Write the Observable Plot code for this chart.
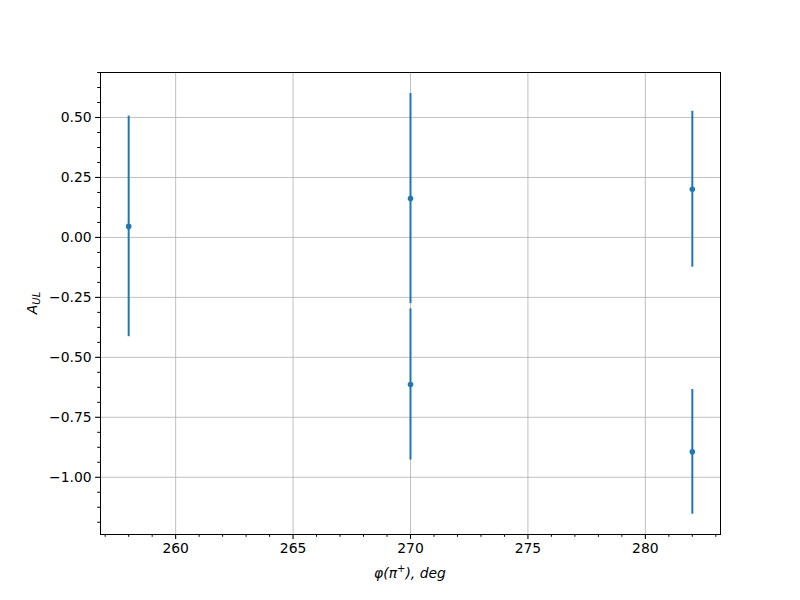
<!DOCTYPE html>
<html>
<head>
<meta charset="utf-8">
<script src="https://cdn.jsdelivr.net/npm/d3@7"></script>
<script src="https://cdn.jsdelivr.net/npm/@observablehq/plot@0.6"></script>
<style>
  html, body { margin: 0; padding: 0; background: #fff; }
  #chart { width: 800px; height: 600px; }
  svg { font-family: "DejaVu Sans", sans-serif; }
</style>
</head>
<body>
<div id="chart"></div>
<script>
// Data
const phi = [258, 270, 270, 282, 282];
const aul = [0.046, 0.162, -0.613, 0.201, -0.894];
const err = [0.46, 0.438, 0.315, 0.325, 0.26];

const xTicks = [260, 265, 270, 275, 280];
const yTicks = [0.5, 0.25, 0.0, -0.25, -0.5, -0.75, -1.0];
const xMinor = d3.range(257, 284, 1).filter(v => !xTicks.includes(v));
const yMinor = d3.range(-19, 12).map(k => k * 0.0625).filter(v => v > -1.239 && v < 0.688 && !yTicks.some(t => Math.abs(t - v) < 1e-9));

const data = phi.map((p, i) => ({x: p, y: aul[i], lo: aul[i] - err[i], hi: aul[i] + err[i]}));

const color = "#1f77b4";

const chart = Plot.plot({
  width: 800,
  height: 600,
  marginLeft: 100,
  marginRight: 80,
  marginTop: 72,
  marginBottom: 66,
  style: {fontFamily: "DejaVu Sans, sans-serif", fontSize: "13.9px", color: "black", background: "white"},
  x: {domain: [256.8, 283.2], label: null},
  y: {domain: [-1.2386, 0.6876], label: null},
  marks: [
    Plot.gridX(xTicks, {stroke: "#b0b0b0", strokeOpacity: 1, strokeWidth: 0.8}),
    Plot.gridY(yTicks, {stroke: "#b0b0b0", strokeOpacity: 1, strokeWidth: 0.8}),
    Plot.axisX(xTicks, {tickSize: 4.9, tickPadding: 4, strokeWidth: 1.1, tickFormat: d3.format("d"), label: null, fontSize: 13.9}),
    Plot.axisX(xMinor, {tickSize: 2.8, strokeWidth: 1, tickFormat: () => "", label: null}),
    Plot.axisY(yTicks, {tickSize: 4.9, tickPadding: 4, strokeWidth: 1.1, tickFormat: d3.format(".2f"), label: null, fontSize: 13.9}),
    Plot.axisY(yMinor, {tickSize: 2.8, strokeWidth: 1, tickFormat: () => "", label: null}),
    Plot.ruleX(data, {x: "x", y1: "lo", y2: "hi", stroke: color, strokeWidth: 2}),
    Plot.dot(data, {x: "x", y: "y", r: 2.8, fill: color, stroke: "none"}),
    Plot.frame({stroke: "black", strokeWidth: 1})
  ]
});

const svg = d3.select(chart);
// x label: φ(π⁺), deg
const xl = svg.append("text")
  .attr("x", 410).attr("y", 578)
  .attr("text-anchor", "middle")
  .attr("font-size", "13.9px")
  .attr("font-family", "DejaVu Sans, sans-serif")
  .attr("font-style", "italic");
xl.append("tspan").text("φ(π");
xl.append("tspan").attr("font-size", "10px").attr("dy", "-6").text("+");
xl.append("tspan").attr("dy", "6").text("), deg");

// y label: A_UL
const yl = svg.append("text")
  .attr("transform", "translate(37,303) rotate(-90)")
  .attr("text-anchor", "middle")
  .attr("font-size", "13.9px")
  .attr("font-family", "DejaVu Sans, sans-serif")
  .attr("font-style", "italic");
yl.append("tspan").text("A");
yl.append("tspan").attr("font-size", "10px").attr("dy", "3").text("UL");

document.getElementById("chart").appendChild(chart);
</script>
</body>
</html>
